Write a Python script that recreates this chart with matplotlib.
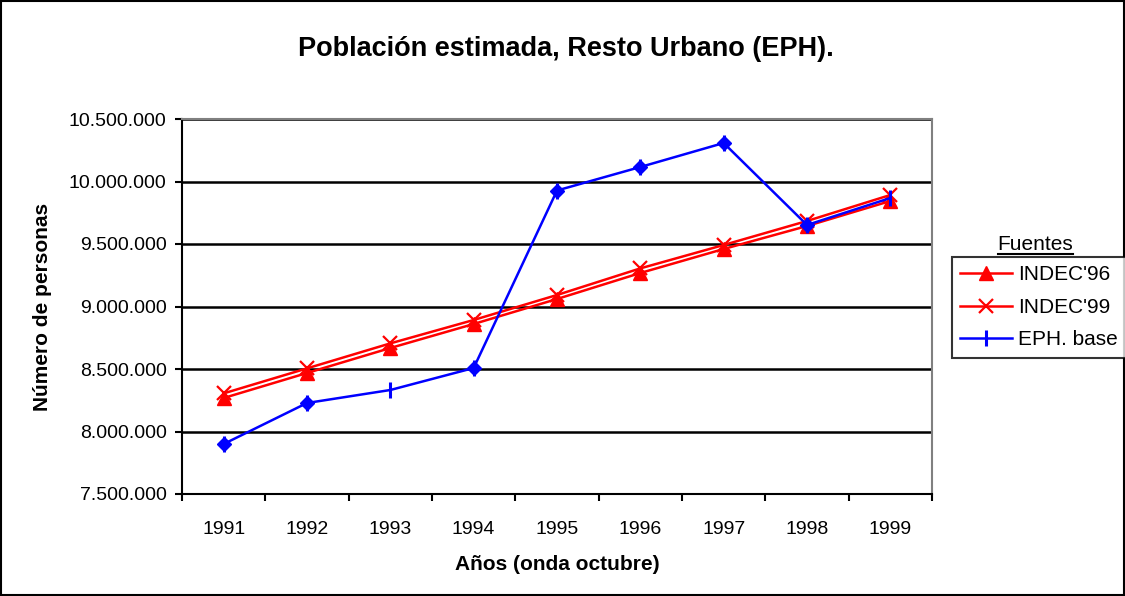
#
# Poblacion estimada, Resto Urbano (EPH)
#
import matplotlib
matplotlib.use("Agg")
import matplotlib.pyplot as plt
from matplotlib.lines import Line2D
from matplotlib.ticker import FuncFormatter

plt.rcParams['font.family'] = ['Liberation Sans', 'DejaVu Sans']

#
# Data
#
years = ['1991', '1992', '1993', '1994', '1995', '1996', '1997', '1998', '1999']
indec96 = [8268000, 8468000, 8668000, 8860000, 9060000, 9268000, 9460000, 9644000, 9844000]
indec99 = [8305000, 8505000, 8705000, 8892000, 9092000, 9305000, 9492000, 9684000, 9892000]
eph_base = [7900000, 8228000, 8332000, 8508000, 9928000, 10116000, 10308000, 9652000, 9868000]
# points of the EPH series drawn with a diamond instead of the plain tick
eph_diamond = [True, True, False, True, True, True, True, True, False]

yticks = [7500000, 8000000, 8500000, 9000000, 9500000, 10000000, 10500000]

#
# Figure
#
fig = plt.figure(figsize=(11.25, 5.96), dpi=100)
W, H = 1125, 596
ax = fig.add_axes([182 / W, 1 - 494 / H, (932 - 182) / W, (494 - 119) / H])

x = list(range(1, len(years) + 1))
ax.plot(x, indec96, color='red', lw=1.8, marker='^', ms=10, label="INDEC'96", zorder=3)
ax.plot(x, indec99, color='red', lw=1.8, marker='x', ms=10, mew=1.6, label="INDEC'99", zorder=3)
ax.plot(x, eph_base, color='blue', lw=1.8, marker='|', ms=12, mew=2.2, label='EPH. base', zorder=4)
dx = [xi for xi, d in zip(x, eph_diamond) if d]
dy = [yi for yi, d in zip(eph_base, eph_diamond) if d]
ax.plot(dx, dy, ls='none', color='blue', marker='D', ms=7.5, zorder=5)

ax.set_xlim(0.5, len(years) + 0.5)
ax.set_ylim(7500000, 10500000)
ax.set_yticks(yticks)
ax.yaxis.set_major_formatter(FuncFormatter(lambda v, p: '{:,.0f}'.format(v).replace(',', '.')))
ax.grid(axis='y', color='black', lw=1.8)
ax.set_axisbelow(True)

ax.set_xticks(x)
ax.set_xticklabels(years)
ax.set_xticks([i + 0.5 for i in range(len(years) + 1)], minor=True)
ax.tick_params(axis='x', which='major', length=0, pad=19.5, labelsize=14)
ax.tick_params(axis='x', which='minor', length=5, width=1.5, direction='out')
ax.tick_params(axis='y', length=5, width=1.5, labelsize=14, pad=6)

for side in ['top', 'right']:
    ax.spines[side].set_color('#808080')
    ax.spines[side].set_linewidth(1.5)
for side in ['left', 'bottom']:
    ax.spines[side].set_color('black')
    ax.spines[side].set_linewidth(1.5)

ax.set_xlabel('Años (onda octubre)', fontsize=15, fontweight='bold', labelpad=12)
ax.set_ylabel('Número de personas', fontsize=15, fontweight='bold', labelpad=12)

fig.text(566 / W, 1 - 49 / H, 'Población estimada, Resto Urbano (EPH).',
         ha='center', va='center', fontsize=19.5, fontweight='bold')

# legend
leg = fig.legend(loc='upper left', bbox_to_anchor=(952 / W, 1 - 257 / H),
                 fontsize=15, frameon=True, fancybox=False, edgecolor='black',
                 handlelength=2.5, borderpad=0.4, labelspacing=0.65, handletextpad=0.25,
                 borderaxespad=0)
leg.get_frame().set_linewidth(1.5)
fig.text(1035 / W, 1 - 245 / H, 'Fuentes', ha='center', va='center', fontsize=15)
fig.add_artist(Line2D([998 / W, 1073 / W], [1 - 254 / H, 1 - 254 / H], color='black', lw=1.5))

# outer border
fig.add_artist(plt.Rectangle((1 / W, 1 / H), 1 - 2 / W, 1 - 2 / H, transform=fig.transFigure,
                             fill=False, edgecolor='black', lw=1.5))

fig.savefig('out.png', dpi=100)
